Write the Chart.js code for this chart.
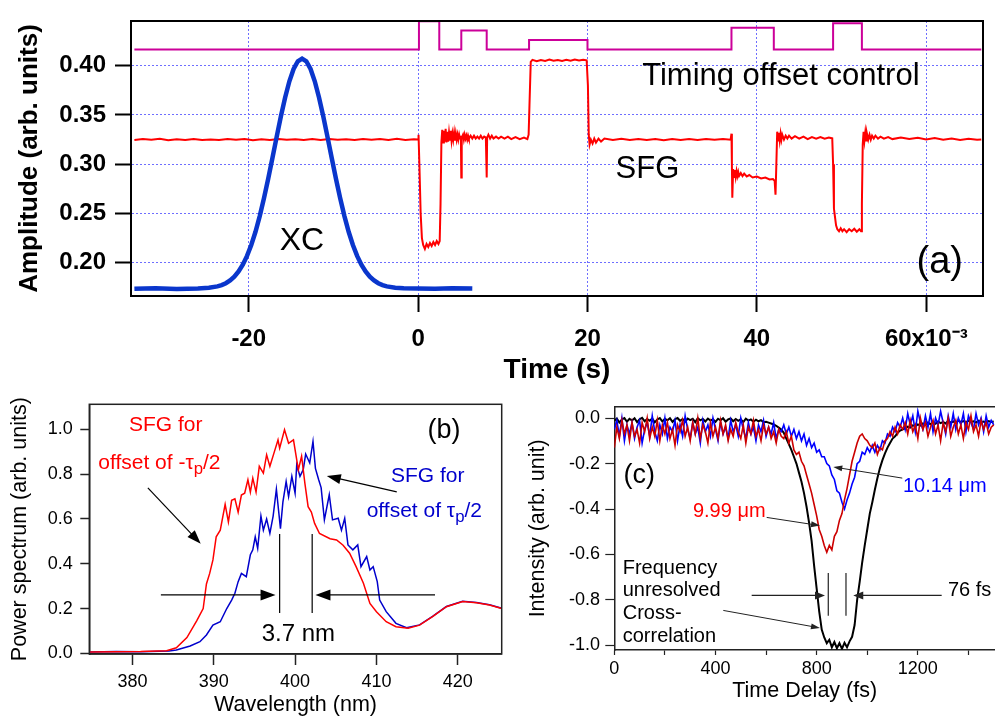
<!DOCTYPE html>
<html><head><meta charset="utf-8">
<script src="https://cdn.jsdelivr.net/npm/chart.js@4.4.1/dist/chart.umd.min.js"></script>
<style>
html,body{margin:0;padding:0;background:#fff;}
#wrap{position:relative;width:995px;height:717px;overflow:hidden;background:#fff;}
canvas{position:absolute;left:0;top:0;}
</style></head><body>
<div id="wrap">
<canvas id="ca" width="995" height="717"></canvas>
<canvas id="cb" width="995" height="717"></canvas>
<canvas id="cc" width="995" height="717"></canvas>
</div>
<script>
const FONT = "'Liberation Sans', Arial, Helvetica, sans-serif";

// ---------- panel (a) ----------
const timeTicks = [-20, 0, 20, 40, 60];
const ampTicks = [0.20, 0.25, 0.30, 0.35, 0.40];
const ctrlTime = [-33.5, 0.1, 2.5, 5.1, 8.1, 13.1, 20.0, 37.0, 42.0, 49.0, 52.4, 66.5];
const ctrlAmp  = [0.4165, 0.4452, 0.4165, 0.4358, 0.4165, 0.426, 0.4165, 0.4385, 0.4165, 0.4431, 0.4165, 0.4165];
const sfgTime = [-33.5,-32.5,-31.5,-30.5,-29.5,-28.5,-27.5,-26.5,-25.5,-24.5,-23.5,-22.5,-21.5,-20.5,-19.5,-18.5,-17.5,-16.5,-15.5,-14.5,-13.5,-12.5,-11.5,-10.5,-9.5,-8.5,-7.5,-6.5,-5.5,-4.5,-3.5,-2.5,-1.5,-0.5,0,
0.05,0.15,0.3,0.45,0.6,0.8,1.0,1.2,1.4,1.6,1.8,2.0,2.2,2.4,2.55,2.65,2.75,
2.85,2.95,3.05,3.15,3.25,3.35,3.45,3.55,3.65,3.75,3.85,3.95,4.05,4.15,4.25,4.35,4.45,4.55,4.65,4.75,4.85,4.95,5.05,5.1,5.15,
5.3,5.4,5.5,5.6,5.7,5.8,5.9,6.0,6.2,6.4,6.6,6.8,7.0,7.2,7.4,7.6,7.8,8.0,8.1,8.15,
8.3,8.5,8.7,8.9,9.2,9.5,9.8,10.2,10.6,11.0,11.5,12.0,12.5,12.9,13.05,13.15,13.3,13.5,
14,14.5,15,15.5,16,16.5,17,17.5,18,18.5,19,19.5,19.9,20.05,20.15,20.25,20.4,20.6,20.8,21.0,21.3,21.6,22,
23,24,25,26,27,28,29,30,31,32,33,34,35,36,36.9,37.0,37.05,37.1,37.2,37.3,37.4,37.5,37.6,37.7,37.8,37.9,38.1,38.3,38.5,38.8,39.1,39.5,40,40.5,41,41.5,41.9,42.1,42.2,42.3,42.4,
42.5,42.6,42.7,42.8,42.9,43.0,43.2,43.4,43.6,43.8,44.1,44.5,45,45.5,46,46.5,47,47.5,48,48.5,48.9,
49.0,49.1,49.2,49.35,49.5,49.7,49.9,50.1,50.3,50.6,50.9,51.2,51.5,51.8,52.1,52.3,52.4,52.5,
52.6,52.7,52.8,52.9,53.0,53.15,53.3,53.45,53.6,53.8,54.0,54.3,54.6,55,55.5,56,57,58,59,60,61,62,63,64,65,66,66.5];
const sfgAmp = [.3245,.3255,.3248,.3258,.3244,.3254,.3247,.3257,.3245,.3252,.3246,.3256,.3248,.3255,.3244,.3253,.3247,.3256,.3249,.3254,.3245,.3255,.3247,.3257,.3248,.3254,.3246,.3255,.3249,.3256,.3247,.3258,.3246,.3254,.3252,
.330,.300,.250,.225,.218,.214,.219,.216,.220,.217,.221,.218,.222,.219,.222,.260,.322,
.335,.322,.334,.323,.336,.322,.333,.323,.332,.324,.334,.324,.331,.325,.332,.324,.331,.325,.330,.325,.330,.326,.329,.2865,.327,
.330,.325,.330,.326,.329,.325,.329,.326,.329,.326,.329,.326,.328,.326,.329,.326,.328,.327,.2865,.327,
.330,.326,.329,.326,.328,.326,.328,.326,.328,.3255,.3275,.3255,.327,.3255,.330,.360,.404,.406,
.4045,.4058,.4048,.4062,.405,.4058,.4048,.406,.405,.4062,.4052,.406,.4055,.380,.330,.320,.325,.321,.326,.322,.326,.323,.326,
.3245,.3258,.3246,.3256,.3247,.3255,.3244,.3256,.3247,.3255,.3246,.3257,.3248,.3255,.3248,.331,.300,.266,.295,.287,.294,.287,.293,.288,.292,.288,.291,.288,.2905,.2875,.289,.2865,.2875,.2855,.2865,.2845,.285,.283,.269,.300,.333,
.324,.332,.324,.331,.325,.330,.325,.329,.326,.329,.326,.3285,.326,.328,.3255,.3275,.326,.3275,.3258,.327,.3262,
.300,.255,.248,.238,.234,.232,.235,.232,.234,.231,.234,.232,.2345,.2315,.234,.232,.260,.320,
.333,.324,.332,.324,.331,.325,.330,.325,.329,.326,.329,.326,.328,.326,.3275,.3255,.327,.3255,.3268,.3252,.3265,.3248,.3262,.3247,.3258,.3248,.3252];
const xcTime = [-33.5,-31,-28.5,-26,-24.7,-23.7,-23.2,-22.7,-22.2,-21.7,-21.2,-20.7,-20.2,-19.7,-19.2,-18.7,-18.2,-17.7,-17.2,-16.7,-16.2,-15.7,-15.2,-14.7,-14.2,-13.7,-13.2,-12.7,-12.2,-11.7,-11.2,-10.7,-10.2,-9.7,-9.2,-8.7,-8.2,-7.7,-7.2,-6.7,-6.2,-5.7,-5.2,-4.7,-4.2,-3.7,-2.7,-1.7,0,2,4,6.4];
const xcAmp = [.1735,.1741,.1734,.1739,.1746,.1760,.1773,.1792,.1820,.1858,.1911,.1980,.2069,.2180,.2314,.2473,.2654,.2852,.3063,.3278,.3487,.3678,.3842,.3967,.4045,.4072,.4045,.3967,.3842,.3678,.3487,.3278,.3063,.2852,.2654,.2473,.2314,.2180,.2069,.1980,.1911,.1858,.1820,.1792,.1773,.1760,.1746,.1741,.1738,.1735,.1740,.1737];

// ---------- panel (b) ----------
const wlTicks = [380, 390, 400, 410, 420];
const powTicks = [0, 0.2, 0.4, 0.6, 0.8, 1.0];
const redWl = [374.8,378,381,384.2,385.4,386.7,387.9,388.7,389.1,389.5,389.9,390.3,390.8,391.4,391.8,392.2,392.6,393.0,393.4,393.8,394.2,394.5,394.8,395.2,395.6,396.1,396.5,396.9,397.4,397.9,398.1,398.7,399.2,399.8,400.4,400.8,401.2,401.6,402.0,402.4,403.0,404.3,405.1,405.9,406.7,407.5,408.4,409.2,410.0,411.2,412.4,413.9,415.3,416.9,418.6,420.6,422.3,423.9,425.4];
const redPow = [0.006,0.007,0.008,0.012,0.025,0.07,0.145,0.20,0.31,0.357,0.417,0.52,0.55,0.665,0.587,0.683,0.69,0.63,0.707,0.715,0.775,0.72,0.782,0.72,0.835,0.805,0.886,0.835,0.894,0.953,0.916,0.998,0.938,0.953,0.82,0.88,0.76,0.655,0.631,0.58,0.535,0.512,0.506,0.483,0.447,0.387,0.313,0.223,0.186,0.141,0.119,0.112,0.126,0.164,0.208,0.231,0.226,0.216,0.200];
const blueWl = [374.8,378,381,384.5,385.4,387.1,388.3,389.1,389.9,390.8,391.6,392.2,392.6,393.0,393.4,394.0,394.5,394.8,395.1,395.4,395.8,396.1,396.5,396.9,397.3,397.7,398.2,398.5,398.9,399.2,399.6,400.0,400.2,400.6,401.0,401.3,401.8,402.2,402.5,402.9,403.2,403.6,404.2,404.6,405.3,405.7,406.1,406.5,407.1,407.7,408.1,408.8,409.2,409.6,410.1,410.4,411.2,412.4,413.7,415.3,416.9,418.6,420.6,422.3,423.9,425.4];
const bluePow = [0.006,0.008,0.007,0.01,0.015,0.033,0.052,0.082,0.126,0.141,0.20,0.238,0.268,0.32,0.357,0.342,0.44,0.462,0.52,0.469,0.613,0.55,0.60,0.536,0.613,0.733,0.557,0.675,0.767,0.70,0.79,0.715,0.842,0.79,0.82,0.89,0.85,0.946,0.826,0.775,0.74,0.596,0.708,0.596,0.603,0.55,0.603,0.484,0.462,0.484,0.387,0.432,0.372,0.387,0.32,0.238,0.186,0.134,0.114,0.127,0.165,0.209,0.232,0.227,0.217,0.201];

// ---------- panel (c) ----------
const delayTicks = [0, 200, 400, 600, 800, 1000, 1200, 1400];
const intTicks = [-1.0, -0.8, -0.6, -0.4, -0.2, 0.0];
const delayFs = [0,10,20,30,40,50,60,70,80,90,100,110,120,130,140,150,160,170,180,190,
200,210,220,230,240,250,260,270,280,290,300,310,320,330,340,350,360,370,380,390,
400,410,420,430,440,450,460,470,480,490,500,510,520,530,540,550,560,570,580,590,
600,610,620,630,640,650,660,670,680,690,700,710,720,730,740,750,760,770,780,790,
800,810,820,830,840,850,860,870,880,890,900,910,920,930,940,950,960,970,980,990,
1000,1010,1020,1030,1040,1050,1060,1070,1080,1090,1100,1110,1120,1130,1140,1150,1160,1170,1180,1190,
1200,1210,1220,1230,1240,1250,1260,1270,1280,1290,1300,1310,1320,1330,1340,1350,1360,1370,1380,1390,
1400,1410,1420,1430,1440,1450,1460,1470,1480,1490,1500];
const ccBlack = [-0.012,-0.002,-0.02,-0.006,0.000,-0.016,-0.003,-0.011,-0.001,-0.018,
-0.005,0.001,-0.014,-0.004,-0.012,-0.002,-0.019,-0.006,0.000,-0.015,
-0.003,-0.010,-0.001,-0.017,-0.005,0.000,-0.012,-0.004,-0.016,-0.002,
-0.009,-0.003,-0.018,-0.001,-0.010,-0.004,-0.015,-0.002,-0.011,-0.005,
-0.017,-0.003,-0.010,-0.001,-0.016,-0.006,-0.002,-0.014,-0.004,-0.012,
-0.005,-0.018,-0.003,-0.011,-0.006,-0.016,-0.007,-0.014,-0.009,-0.018,
-0.016,-0.020,-0.024,-0.028,-0.034,-0.042,-0.05,
-0.065,-0.09,-0.115,-0.14,-0.17,-0.20,-0.24,-0.28,-0.33,-0.39,-0.46,-0.54,-0.65,-0.75,-0.85,-0.93,-0.965,-0.99,-0.975,-1.008,-0.985,-1.012,-0.99,-1.015,-0.988,-1.008,-0.982,-0.962,-0.91,-0.80,-0.72,-0.635,-0.56,-0.49,-0.42,-0.37,-0.315,-0.265,-0.22,-0.185,-0.155,-0.13,-0.11,-0.09,-0.08,-0.065,-0.055,
-0.05,-0.045,-0.038,-0.042,-0.032,-0.036,-0.028,-0.033,-0.024,-0.03,-0.02,-0.027,-0.018,-0.025,-0.015,-0.022,-0.017,-0.024,-0.012,-0.02,-0.015,-0.022,-0.01,-0.018,-0.013,-0.02,-0.011,-0.017,-0.014,-0.02,-0.012,-0.018,-0.015,-0.02,-0.013,-0.017,-0.015];
const ccRed = [-0.13,-0.04,-0.09,-0.01,-0.07,-0.03,-0.10,-0.02,-0.08,-0.05,
-0.11,-0.02,-0.06,0.00,-0.09,-0.04,-0.08,-0.01,-0.10,-0.03,
-0.07,-0.02,-0.09,-0.05,-0.12,-0.03,-0.06,-0.01,-0.08,-0.04,
-0.10,-0.02,-0.07,0.00,-0.09,-0.03,-0.06,-0.11,-0.02,-0.08,
-0.04,-0.09,-0.01,-0.07,-0.03,-0.10,-0.05,-0.08,-0.02,-0.06,
-0.09,-0.03,-0.11,-0.04,-0.07,-0.01,-0.08,-0.05,-0.10,-0.03,
-0.07,-0.04,-0.09,-0.06,-0.11,-0.05,-0.08,
-0.09,-0.06,-0.11,-0.08,-0.14,-0.16,-0.15,-0.19,-0.21,-0.25,-0.29,-0.33,-0.38,-0.43,-0.49,-0.52,-0.56,-0.59,-0.56,-0.58,-0.52,-0.50,-0.45,-0.42,-0.36,-0.31,-0.25,-0.19,-0.15,-0.11,-0.08,-0.07,-0.09,-0.10,-0.12,-0.13,-0.11,-0.16,-0.13,-0.14,-0.10,-0.09,-0.06,-0.08,-0.04,-0.07,-0.03,
-0.05,-0.02,-0.07,-0.01,-0.06,-0.03,-0.09,0.00,-0.05,-0.02,-0.08,-0.04,-0.01,-0.07,-0.03,-0.10,-0.02,-0.06,0.00,-0.08,-0.04,-0.01,-0.07,-0.03,-0.09,-0.02,-0.05,0.01,-0.06,-0.03,-0.08,-0.01,-0.05,-0.02,-0.07,-0.04,-0.03];
const ccBlue = [-0.05,-0.01,-0.08,0.00,-0.10,-0.03,-0.07,-0.02,-0.09,-0.04,
-0.01,-0.11,-0.05,-0.02,-0.08,0.01,-0.06,-0.10,-0.03,-0.07,
0.00,-0.09,-0.04,-0.06,-0.01,-0.10,-0.03,-0.08,0.01,-0.05,
-0.09,-0.02,-0.07,-0.04,-0.11,-0.01,-0.06,-0.03,-0.08,0.00,
-0.05,-0.10,-0.02,-0.07,-0.04,-0.09,-0.01,-0.06,-0.03,-0.08,
0.00,-0.05,-0.09,-0.02,-0.07,-0.04,-0.10,-0.03,-0.06,-0.01,
-0.08,-0.04,-0.07,-0.02,-0.09,-0.05,-0.06,
-0.03,-0.07,-0.04,-0.08,-0.05,-0.09,-0.06,-0.10,-0.07,-0.12,-0.09,-0.13,-0.11,-0.15,-0.14,-0.17,-0.17,-0.20,-0.21,-0.25,-0.27,-0.32,-0.33,-0.37,-0.40,-0.36,-0.33,-0.29,-0.26,-0.20,-0.19,-0.15,-0.16,-0.13,-0.15,-0.12,-0.15,-0.12,-0.14,-0.10,-0.11,-0.07,-0.08,-0.04,-0.06,-0.02,-0.04,
0.00,-0.05,0.02,-0.03,0.01,-0.06,0.03,-0.02,-0.05,0.01,-0.04,0.02,-0.06,0.00,-0.03,0.03,-0.02,-0.07,0.01,-0.04,0.02,-0.05,0.00,-0.03,0.02,-0.06,0.01,-0.02,-0.05,0.02,-0.03,0.00,-0.06,0.01,-0.04,-0.01,-0.03];

// ---------- helpers ----------
function pts(xs, ys) { return xs.map((x, i) => ({x: x, y: ys[i]})); }
function P(chart, x, y) { return {x: chart.scales.x.getPixelForValue(x), y: chart.scales.y.getPixelForValue(y)}; }
function arrow(ctx, a, b, hl, hw, color, lw) {
  ctx.save();
  ctx.strokeStyle = color; ctx.fillStyle = color; ctx.lineWidth = lw;
  const ang = Math.atan2(b.y - a.y, b.x - a.x);
  const c = Math.cos(ang), s = Math.sin(ang);
  ctx.beginPath(); ctx.moveTo(a.x, a.y); ctx.lineTo(b.x - hl * 0.8 * c, b.y - hl * 0.8 * s); ctx.stroke();
  ctx.beginPath(); ctx.moveTo(b.x, b.y);
  ctx.lineTo(b.x - hl * c + hw / 2 * s, b.y - hl * s - hw / 2 * c);
  ctx.lineTo(b.x - hl * c - hw / 2 * s, b.y - hl * s + hw / 2 * c);
  ctx.closePath(); ctx.fill();
  ctx.restore();
}
function seg(ctx, a, b, color, lw) {
  ctx.save(); ctx.strokeStyle = color; ctx.lineWidth = lw;
  ctx.beginPath(); ctx.moveTo(a.x, a.y); ctx.lineTo(b.x, b.y); ctx.stroke(); ctx.restore();
}
function rich(ctx, parts, p, size, color, align) {
  ctx.save();
  const ws = parts.map(q => { ctx.font = (q[1] ? size * 0.8 : size) + 'px ' + FONT; return ctx.measureText(q[0]).width; });
  const total = ws.reduce((a, b) => a + b, 0);
  let x = align === 'center' ? p.x - total / 2 : p.x;
  ctx.fillStyle = color; ctx.textAlign = 'left'; ctx.textBaseline = 'middle';
  parts.forEach((q, i) => {
    ctx.font = (q[1] ? size * 0.8 : size) + 'px ' + FONT;
    ctx.fillText(q[0], x, q[1] ? p.y + size * 0.32 : p.y);
    x += ws[i];
  });
  ctx.restore();
}
function fixedTicks(vals) { return function (scale) { scale.ticks = vals.map(v => ({value: v})); }; }

Chart.defaults.font.family = FONT;
Chart.defaults.color = '#000';

const common = {
  responsive: false, animation: false, devicePixelRatio: 1,
  events: [],
  plugins: {legend: {display: false}, tooltip: {enabled: false}},
  elements: {point: {radius: 0}, line: {tension: 0}}
};

// ---------- chart (a) ----------
new Chart(document.getElementById('ca'), {
  type: 'line',
  data: {datasets: [
    {label: 'XC', data: pts(xcTime, xcAmp), borderColor: '#0a36cc', borderWidth: 4.5, order: 0},
    {label: 'SFG', data: pts(sfgTime, sfgAmp), borderColor: '#ff0000', borderWidth: 2, order: 1},
    {label: 'Timing offset control', data: pts(ctrlTime, ctrlAmp), stepped: 'before', borderColor: '#cc0099', borderWidth: 2, order: 2}
  ]},
  options: Object.assign({}, common, {
    layout: {autoPadding: false, padding: {left: 0, top: 13, right: 12, bottom: 333}},
    scales: {
      x: {type: 'linear', min: -33.9, max: 66.7,
        afterBuildTicks: fixedTicks(timeTicks), afterFit: s => { s.height = 88; },
        ticks: {callback: v => v === 60 ? '60x10\u207B\u00B3' : String(v), font: {size: 24, weight: 'bold', lineHeight: 1}, color: '#000', padding: 15, maxRotation: 0, minRotation: 0, autoSkip: false},
        grid: {color: '#6e6eff', lineWidth: 1, tickLength: 16, tickColor: '#000', tickWidth: 2},
        border: {display: true, color: '#000', width: 2, dash: [2, 2]},
        title: {display: true, text: 'Time (s)', font: {size: 28, weight: 'bold', lineHeight: 1}, color: '#000', padding: 0}},
      y: {type: 'linear', min: 0.1662, max: 0.4454,
        afterBuildTicks: fixedTicks(ampTicks), afterFit: s => { s.width = 131; },
        ticks: {callback: v => v.toFixed(2), font: {size: 24, weight: 'bold', lineHeight: 1}, color: '#000', padding: 9, autoSkip: false},
        grid: {color: '#6e6eff', lineWidth: 1, tickLength: 16, tickColor: '#000', tickWidth: 2},
        border: {display: true, color: '#000', width: 2, dash: [2, 2]},
        title: {display: true, text: 'Amplitude (arb. units)', font: {size: 26, weight: 'bold', lineHeight: 1}, color: '#000', padding: {top: 16.5, bottom: 0}}}
    }
  }),
  plugins: [{id: 'decoA', afterDraw(chart) {
    const ctx = chart.ctx, a = chart.chartArea;
    ctx.save(); ctx.strokeStyle = '#000'; ctx.lineWidth = 2;
    ctx.strokeRect(a.left, a.top, a.right - a.left, a.bottom - a.top); ctx.restore();
    rich(ctx, [['XC']], P(chart, -13.72, 0.2221), 32, '#000', 'center');
    rich(ctx, [['Timing offset control']], P(chart, 42.83, 0.3891), 31, '#000', 'center');
    rich(ctx, [['SFG']], P(chart, 27.08, 0.2944), 31, '#000', 'center');
    rich(ctx, [['(a)']], P(chart, 61.6, 0.1997), 38, '#000', 'center');
  }}]
});

// ---------- chart (b) ----------
new Chart(document.getElementById('cb'), {
  type: 'line',
  data: {datasets: [
    {label: 'SFG for offset of -τp/2', data: pts(redWl, redPow), borderColor: '#ff0000', borderWidth: 1.5, order: 0},
    {label: 'SFG for offset of τp/2', data: pts(blueWl, bluePow), borderColor: '#0000cc', borderWidth: 1.5, order: 1}
  ]},
  options: Object.assign({}, common, {
    layout: {autoPadding: false, padding: {left: 0, top: 404.3, right: 493.3, bottom: 1.5}},
    scales: {
      x: {type: 'linear', min: 374.7, max: 425.4,
        afterBuildTicks: fixedTicks(wlTicks), afterFit: s => { s.height = 61.5; },
        ticks: {callback: v => String(v), font: {size: 18, lineHeight: 1}, color: '#000', padding: 7.7, maxRotation: 0, minRotation: 0, autoSkip: false},
        grid: {drawOnChartArea: false, tickLength: 11, tickColor: '#222', tickWidth: 1.5},
        border: {display: true, color: '#222', width: 1.5},
        title: {display: true, text: 'Wavelength (nm)', font: {size: 21.5, lineHeight: 1}, color: '#000', padding: 0}},
      y: {type: 'linear', min: -0.003, max: 1.112,
        afterBuildTicks: fixedTicks(powTicks), afterFit: s => { s.width = 89.3; },
        ticks: {callback: v => v.toFixed(1), font: {size: 18, lineHeight: 1}, color: '#000', padding: 7.6, autoSkip: false},
        grid: {drawOnChartArea: false, tickLength: 9, tickColor: '#222', tickWidth: 1.5},
        border: {display: true, color: '#222', width: 1.5},
        title: {display: true, text: 'Power spectrum (arb. units)', font: {size: 21.5, lineHeight: 1}, color: '#000', padding: {top: 9.25, bottom: 0}}}
    }
  }),
  plugins: [{id: 'decoB', afterDraw(chart) {
    const ctx = chart.ctx, a = chart.chartArea;
    ctx.save(); ctx.strokeStyle = '#222'; ctx.lineWidth = 1.5;
    ctx.strokeRect(a.left, a.top, a.right - a.left, a.bottom - a.top); ctx.restore();
    rich(ctx, [['SFG for']], P(chart, 384.1, 1.02), 21, '#ff0000', 'center');
    rich(ctx, [['offset of -τ'], ['p', true], ['/2']], P(chart, 375.8, 0.85), 21, '#ff0000', 'left');
    rich(ctx, [['SFG for']], P(chart, 416.3, 0.79), 21, '#0000cc', 'center');
    rich(ctx, [['offset of τ'], ['p', true], ['/2']], P(chart, 408.8, 0.636), 21, '#0000cc', 'left');
    rich(ctx, [['(b)']], P(chart, 418.3, 0.995), 27, '#000', 'center');
    rich(ctx, [['3.7 nm']], P(chart, 400.4, 0.086), 24, '#000', 'center');
    arrow(ctx, P(chart, 412.5, 0.721), P(chart, 403.9, 0.792), 14, 10, '#000', 1.2);
    arrow(ctx, P(chart, 381.9, 0.739), P(chart, 388.4, 0.489), 14, 10, '#000', 1.2);
    arrow(ctx, P(chart, 383.5, 0.261), P(chart, 397.6, 0.261), 15, 11, '#000', 1.2);
    arrow(ctx, P(chart, 417.2, 0.261), P(chart, 402.5, 0.261), 15, 11, '#000', 1.2);
    seg(ctx, P(chart, 398.1, 0.533), P(chart, 398.1, 0.180), '#000', 1.2);
    seg(ctx, P(chart, 402.1, 0.533), P(chart, 402.1, 0.180), '#000', 1.2);
  }}]
});

// ---------- chart (c) ----------
new Chart(document.getElementById('cc'), {
  type: 'line',
  data: {datasets: [
    {label: '9.99 μm', data: pts(delayFs, ccRed), borderColor: '#cc0000', borderWidth: 1.6, order: 0},
    {label: '10.14 μm', data: pts(delayFs, ccBlue), borderColor: '#0000ff', borderWidth: 1.6, order: 1},
    {label: 'Frequency unresolved Cross-correlation', data: pts(delayFs, ccBlack), borderColor: '#000000', borderWidth: 2, order: 2}
  ]},
  options: Object.assign({}, common, {
    layout: {autoPadding: false, padding: {left: 490, top: 406.7, right: 0, bottom: 14.8}},
    scales: {
      x: {type: 'linear', min: 0, max: 1505,
        afterBuildTicks: fixedTicks(delayTicks), afterFit: s => { s.height = 52.2; },
        ticks: {callback: v => (v % 400 === 0 ? String(v) : ''), font: {size: 18, lineHeight: 1}, color: '#000', padding: 5.3, maxRotation: 0, minRotation: 0, autoSkip: false},
        grid: {drawOnChartArea: false, tickLength: 5, tickColor: '#222', tickWidth: 1.2},
        border: {display: true, color: '#222', width: 1.5},
        title: {display: true, text: 'Time Delay (fs)', font: {size: 21.5, lineHeight: 1}, color: '#000', padding: 0}},
      y: {type: 'linear', min: -1.02, max: 0.05,
        afterBuildTicks: fixedTicks(intTicks), afterFit: s => { s.width = 124.3; },
        ticks: {callback: v => v.toFixed(1), font: {size: 18, lineHeight: 1}, color: '#000', padding: 5.3, autoSkip: false},
        grid: {drawOnChartArea: false, tickLength: 9, tickColor: '#222', tickWidth: 1.2},
        border: {display: true, color: '#222', width: 1.5},
        title: {display: true, text: 'Intensity (arb. unit)', font: {size: 21.5, lineHeight: 1}, color: '#000', padding: {top: 37.5, bottom: 0}}}
    }
  }),
  plugins: [{id: 'decoC', afterDraw(chart) {
    const ctx = chart.ctx, a = chart.chartArea;
    seg(ctx, {x: a.left, y: a.top}, {x: a.right, y: a.top}, '#222', 1.5);
    rich(ctx, [['(c)']], P(chart, 98.8, -0.254), 27, '#000', 'center');
    rich(ctx, [['10.14 μm']], P(chart, 1141, -0.301), 20, '#0000ff', 'left');
    rich(ctx, [['9.99 μm']], P(chart, 310.7, -0.411), 20, '#ff0000', 'left');
    rich(ctx, [['Frequency']], P(chart, 33.2, -0.662), 20, '#000', 'left');
    rich(ctx, [['unresolved']], P(chart, 33.2, -0.759), 20, '#000', 'left');
    rich(ctx, [['Cross-']], P(chart, 33.2, -0.860), 20, '#000', 'left');
    rich(ctx, [['correlation']], P(chart, 33.2, -0.960), 20, '#000', 'left');
    rich(ctx, [['76 fs']], P(chart, 1319, -0.760), 20, '#000', 'left');
    arrow(ctx, P(chart, 1138.4, -0.264), P(chart, 865.7, -0.215), 9, 6, '#222', 1);
    arrow(ctx, P(chart, 602.4, -0.437), P(chart, 813.3, -0.473), 9, 6, '#222', 1);
    arrow(ctx, P(chart, 430.9, -0.846), P(chart, 813.1, -0.923), 9, 6, '#222', 1);
    arrow(ctx, P(chart, 543.1, -0.780), P(chart, 832.9, -0.780), 10, 8, '#222', 1.2);
    arrow(ctx, P(chart, 1294.2, -0.780), P(chart, 944.7, -0.780), 10, 8, '#222', 1.2);
    seg(ctx, P(chart, 845.9, -0.681), P(chart, 845.9, -0.869), '#222', 1.2);
    seg(ctx, P(chart, 915.9, -0.681), P(chart, 915.9, -0.869), '#222', 1.2);
  }}]
});
</script>
</body></html>
